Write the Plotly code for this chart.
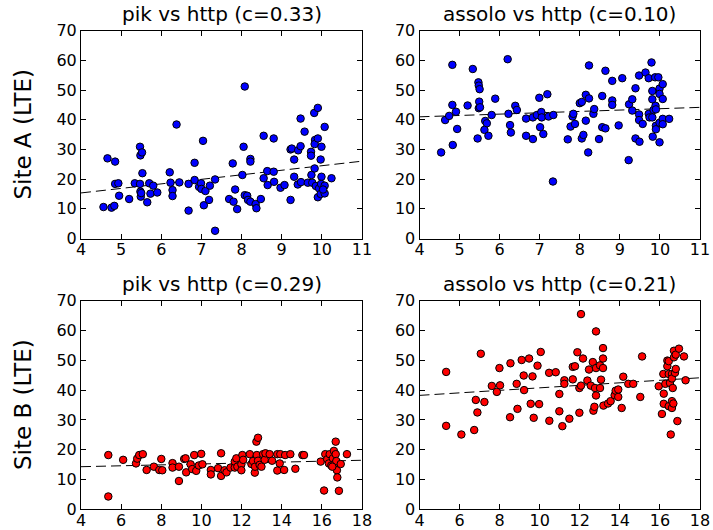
import numpy as np
import plotly.graph_objects as go

# ---------------- data ----------------
a_pik_x = [4.56, 4.66, 4.76, 4.83, 4.85, 4.85, 4.93, 4.95, 5.2, 5.34, 5.47, 5.48, 5.52, 5.47, 5.48, 5.49,
           5.5, 5.53, 5.65, 5.7, 5.73, 5.8, 5.9, 6.21, 6.23, 6.28, 6.28, 6.38, 6.45, 6.68, 6.68, 6.83,
           6.83, 6.94, 6.99, 7.0, 7.04, 7.06, 7.1, 7.19, 7.21, 7.34, 7.34, 7.69, 7.78, 7.8, 7.84, 7.89,
           8.02, 8.05, 8.08, 8.08, 8.14, 8.16, 8.22, 8.22, 8.22, 8.35, 8.37, 8.48, 8.55, 8.55, 8.64, 8.65,
           8.8, 8.8, 8.81, 8.97, 9.07, 9.22, 9.22, 9.25, 9.31, 9.31, 9.41, 9.4, 9.47, 9.47, 9.48, 9.57,
           9.65, 9.73, 9.73, 9.74, 9.76, 9.81, 9.82, 9.83, 9.82, 9.85, 9.9, 9.9, 9.9, 9.93, 9.97, 9.99,
           9.99, 9.98, 9.97, 10.07, 10.07, 10.07, 10.24, 10.03]
a_pik_y = [10.6, 27.0, 10.4, 11.0, 25.9, 18.4, 18.6, 14.4, 13.3, 18.6, 30.9, 28.0, 29.0, 18.4, 15.8, 14.1,
           15.3, 22.0, 12.2, 18.6, 15.1, 17.8, 15.5, 22.3, 18.8, 16.3, 14.3, 38.4, 18.9, 9.4, 18.4, 25.5,
           19.7, 17.4, 18.6, 16.7, 32.9, 11.2, 16.0, 13.0, 17.8, 19.9, 2.6, 13.3, 25.3, 12.4, 16.5, 9.9,
           21.4, 30.9, 51.2, 14.6, 14.4, 13.0, 26.8, 25.9, 12.4, 11.6, 10.2, 13.3, 34.6, 20.3, 22.7, 18.0,
           33.7, 22.5, 19.1, 17.1, 18.0, 30.0, 13.0, 30.3, 26.6, 20.8, 29.7, 18.2, 40.4, 31.1, 19.0, 36.0,
           18.8, 29.2, 27.9, 21.4, 18.8, 42.3, 23.6, 33.2, 31.8, 17.7, 44.0, 33.7, 13.9, 16.9, 26.6, 30.9,
           20.8, 18.4, 15.0, 37.6, 17.8, 15.2, 20.3, 16.5]

a_assolo_x = [4.54, 4.64, 4.74, 4.82, 4.82, 4.83, 4.91, 4.94, 5.2, 5.33, 5.47, 5.48, 5.5, 5.49, 5.48, 5.51,
              5.45, 5.64, 5.68, 5.62, 5.72, 5.8, 5.89, 6.2, 6.22, 6.26, 6.28, 6.39, 6.43, 6.66, 6.66, 6.83,
              6.83, 6.93, 6.99, 7.01, 7.04, 7.05, 7.09, 7.19, 7.22, 7.34, 7.33, 7.7, 7.77, 7.82, 7.84, 7.88,
              8.0, 8.05, 8.05, 8.09, 8.15, 8.15, 8.23, 8.23, 8.21, 8.34, 8.36, 8.48, 8.56, 8.56, 8.64, 8.64,
              8.81, 8.81, 8.81, 8.97, 9.06, 9.22, 9.23, 9.31, 9.31, 9.39, 9.39, 9.48, 9.48, 9.48, 9.49, 9.57,
              9.64, 9.72, 9.72, 9.74, 9.79, 9.81, 9.81, 9.81, 9.82, 9.84, 9.88, 9.89, 9.9, 9.9, 9.9, 9.96,
              9.99, 9.99, 9.99, 9.99, 10.07, 10.07, 10.07, 10.07, 10.23]
a_assolo_y = [29.0, 39.9, 41.3, 58.5, 45.0, 31.5, 42.7, 36.9, 44.8, 57.1, 52.6, 51.5, 50.3, 46.1, 43.9, 44.2,
              33.7, 39.6, 38.8, 36.6, 34.6, 41.6, 47.1, 60.4, 42.0, 38.2, 35.7, 44.7, 43.3, 40.4, 34.6, 40.8,
              33.5, 41.6, 47.4, 37.5, 42.6, 40.8, 35.2, 48.6, 41.1, 41.6, 19.2, 33.4, 37.7, 41.1, 42.0, 38.6,
              45.6, 46.0, 33.7, 34.9, 39.7, 48.4, 58.3, 47.2, 29.0, 42.0, 43.6, 33.5, 48.0, 37.5, 56.5, 37.1,
              53.1, 46.5, 45.0, 38.1, 54.0, 26.4, 45.2, 46.9, 43.1, 50.6, 33.7, 54.9, 41.8, 39.9, 32.6, 38.6,
              55.9, 54.0, 42.0, 40.8, 59.3, 49.7, 46.9, 40.8, 34.3, 43.3, 54.3, 44.7, 43.5, 38.0, 36.8, 54.3,
              50.5, 48.7, 39.0, 32.4, 52.0, 47.0, 40.3, 38.5, 40.3]

b_pik_x = [5.36, 5.36, 6.1, 6.74, 6.8, 6.9, 7.08, 7.27, 7.63, 7.9, 8.0, 8.05, 8.56, 8.56, 8.88, 8.88,
           9.14, 9.21, 9.24, 9.46, 9.54, 9.64, 9.74, 9.87, 9.99, 10.05, 10.47, 10.47, 10.83, 10.98, 10.98,
           11.15, 11.25, 11.45, 11.66, 11.66, 11.74, 11.79, 11.99, 11.99, 12.04, 12.08, 12.41, 12.49, 12.57,
           12.66, 12.67, 12.74, 12.82, 12.76, 12.82, 12.9, 12.99, 13.07, 13.15, 13.19, 13.4, 13.52, 13.78,
           13.78, 13.9, 13.93, 14.12, 14.17, 14.43, 14.68, 15.03, 15.11, 15.94, 16.11, 16.17, 16.27, 16.39,
           16.35, 16.47, 16.55, 16.6, 16.62, 16.69, 16.69, 16.72, 16.75, 16.77, 16.85, 16.94, 17.25, 16.52]
b_pik_y = [18.2, 4.3, 16.6, 15.4, 17.0, 18.2, 18.5, 13.2, 14.3, 13.2, 16.9, 13.1, 15.5, 14.0, 14.3, 9.5,
           16.9, 17.1, 12.4, 15.1, 13.5, 18.2, 12.9, 14.7, 18.6, 15.1, 13.2, 11.7, 13.8, 18.8, 11.2,
           13.1, 12.4, 14.0, 14.0, 16.0, 17.1, 14.3, 15.1, 13.1, 18.2, 16.6, 18.5, 15.2, 16.2,
           12.3, 14.3, 22.7, 24.0, 18.2, 16.3, 14.9, 14.3, 18.5, 16.6, 18.8, 18.5, 16.3, 13.0,
           18.5, 15.4, 18.5, 13.2, 18.2, 18.5, 13.6, 18.2, 18.2, 16.0, 6.3, 18.5, 16.8, 18.5,
           15.4, 14.7, 17.1, 19.6, 15.1, 22.7, 18.5, 16.2, 13.1, 10.7, 6.2, 15.2, 18.5, 14.3]

b_assolo_x = [5.33, 5.33, 6.09, 6.73, 6.81, 6.89, 7.06, 7.24, 7.61, 7.86, 7.99, 8.02, 8.52, 8.54, 8.85, 8.89,
              9.1, 9.2, 9.22, 9.47, 9.55, 9.64, 9.7, 9.89, 9.97, 10.05, 10.47, 10.48, 10.8, 10.98, 10.98,
              11.13, 11.23, 11.23, 11.48, 11.65, 11.65, 11.76, 11.88, 11.98, 11.98, 12.06, 12.06, 12.16, 12.38,
              12.46, 12.55, 12.65, 12.68, 12.73, 12.76, 12.81, 12.81, 12.81, 13.01, 13.01, 13.06, 13.16, 13.16,
              13.16, 13.18, 13.41, 13.54, 13.74, 13.79, 13.92, 13.92, 14.09, 14.17, 14.42, 14.67, 15.02, 15.11,
              15.94, 16.1, 16.17, 16.19, 16.19, 16.27, 16.37, 16.37, 16.44, 16.44, 16.44, 16.5, 16.54, 16.6,
              16.6, 16.6, 16.6, 16.64, 16.67, 16.7, 16.7, 16.75, 16.79, 16.79, 16.87, 16.95, 17.2, 17.28]
b_assolo_y = [46.1, 28.0, 25.1, 26.6, 36.7, 32.5, 52.2, 36.0, 41.4, 39.4, 47.4, 41.6, 30.9, 49.0, 42.1, 33.7,
              50.1, 44.9, 40.0, 50.6, 35.4, 44.6, 30.7, 48.2, 35.3, 52.8, 45.8, 29.7, 46.0, 38.7, 32.9,
              27.9, 43.3, 42.1, 30.4, 43.6, 47.8, 48.0, 52.7, 40.7, 32.4, 65.5, 41.5, 50.6, 43.2,
              46.9, 41.5, 49.4, 33.1, 34.4, 40.7, 59.7, 47.4, 38.2, 48.3, 40.7, 43.5, 54.1, 50.6,
              47.4, 34.8, 35.5, 36.3, 38.3, 39.8, 37.7, 40.2, 34.0, 44.5, 42.1, 42.1, 37.7, 51.3,
              41.3, 32.0, 45.4, 38.8, 35.4, 42.1, 49.9, 48.0, 49.7, 45.4, 34.6, 42.4, 25.1, 45.4,
              43.9, 36.3, 34.0, 40.7, 35.5, 53.2, 51.0, 45.8, 47.1, 51.9, 29.6, 53.9, 51.3, 43.3]

titles = ["pik vs http (c=0.33)", "assolo vs http (c=0.10)",
          "pik vs http (c=0.29)", "assolo vs http (c=0.21)"]
row_labels = ["Site A (LTE)", "Site B (LTE)"]
x_ranges = [[4, 11], [4, 11], [4, 18], [4, 18]]
x_dticks = [1, 1, 2, 2]
y_range = [0, 70]

panels = [(a_pik_x, a_pik_y, "#0000ff"), (a_assolo_x, a_assolo_y, "#0000ff"),
          (b_pik_x, b_pik_y, "#ff0000"), (b_assolo_x, b_assolo_y, "#ff0000")]

# ---------------- layout geometry ----------------
W, H = 713, 530
xdoms = [[81 / W, 362 / W], [419.5 / W, 700 / W]]
ydoms = [[1 - 238.5 / H, 1 - 30.7 / H], [1 - 509.3 / H, 1 - 300.7 / H]]
FONT = "DejaVu Sans"

fig = go.Figure()
layout = dict(width=W, height=H, margin=dict(l=0, r=0, t=0, b=0),
              paper_bgcolor="white", plot_bgcolor="white", showlegend=False,
              font=dict(family=FONT, color="black", size=16))
annotations = []

for i, (px, py, col) in enumerate(panels):
    r, c = divmod(i, 2)
    n = i + 1
    xa = "x" if n == 1 else f"x{n}"
    ya = "y" if n == 1 else f"y{n}"
    # fitted regression line (computed from the data)
    k, b = np.polyfit(np.array(px), np.array(py), 1)
    lx = np.array(x_ranges[i], dtype=float)
    fig.add_trace(go.Scatter(x=lx, y=k * lx + b, mode="lines", xaxis=xa, yaxis=ya,
                             line=dict(color="black", width=1, dash="10px,5px"),
                             hoverinfo="skip"))
    fig.add_trace(go.Scatter(x=px, y=py, mode="markers", xaxis=xa, yaxis=ya,
                             marker=dict(color=col, size=7.5, line=dict(color="black", width=1))))
    axcommon = dict(showline=True, linecolor="black", linewidth=1, mirror="allticks",
                    ticks="inside", ticklen=5, tickcolor="black", tickwidth=1,
                    showgrid=False, zeroline=False, automargin=False,
                    tickfont=dict(family=FONT, size=16, color="black"))
    layout["xaxis" if n == 1 else f"xaxis{n}"] = dict(
        domain=xdoms[c], range=x_ranges[i], dtick=x_dticks[i], tick0=0,
        anchor=ya, ticklabelstandoff=-4, **axcommon)
    layout["yaxis" if n == 1 else f"yaxis{n}"] = dict(
        domain=ydoms[r], range=y_range, dtick=10, tick0=0, anchor=xa, **axcommon)
    annotations.append(dict(text=titles[i], xref="paper", yref="paper",
                            x=(xdoms[c][0] + xdoms[c][1]) / 2, y=ydoms[r][1],
                            xanchor="center", yanchor="bottom", yshift=3, showarrow=False,
                            font=dict(family=FONT, size=20, color="black")))

for r in range(2):
    annotations.append(dict(text=row_labels[r], xref="paper", yref="paper",
                            x=23 / W, y=(ydoms[r][0] + ydoms[r][1]) / 2,
                            xanchor="center", yanchor="middle", textangle=-90,
                            showarrow=False, font=dict(family=FONT, size=23, color="black")))

layout["annotations"] = annotations
fig.update_layout(**layout)
fig.write_html("out.html")
